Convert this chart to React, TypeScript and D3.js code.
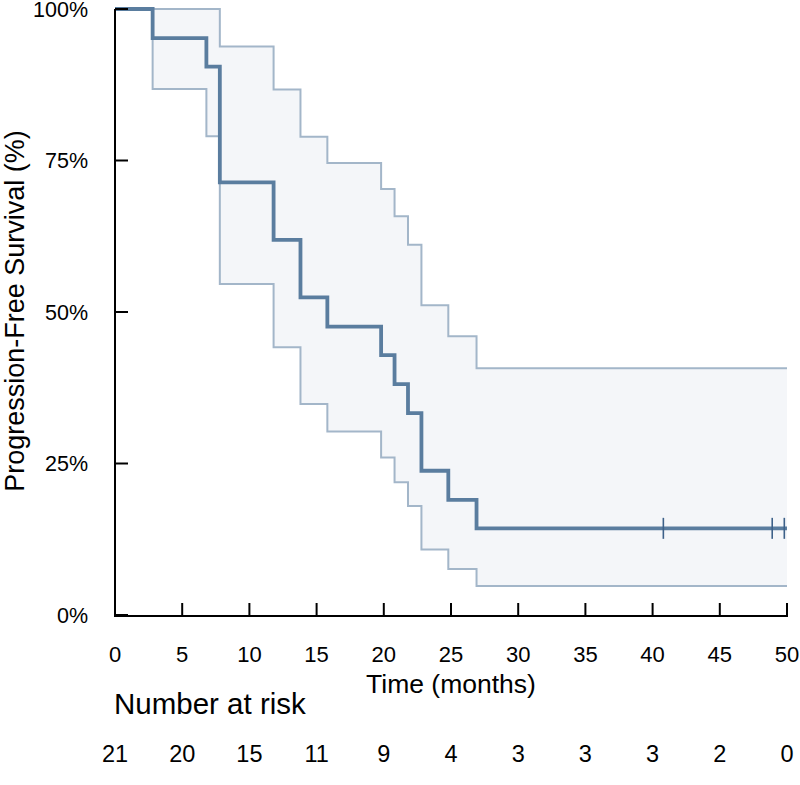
import React from "react";
import * as d3 from "d3";

const eventTimes = [0, 2.8, 6.8, 7.8, 11.8, 13.8, 15.8, 19.8, 20.8, 21.8, 22.8, 24.8, 26.9];
const survival = [100, 95.2, 90.5, 71.4, 61.9, 52.4, 47.6, 42.9, 38.1, 33.3, 23.8, 19.0, 14.3];
const upperCI = [100, 100, 100, 93.8, 86.7, 78.9, 74.6, 70.3, 65.8, 61.1, 51.1, 46.0, 40.7];
const lowerCI = [100, 86.8, 79.0, 54.6, 44.2, 34.8, 30.3, 26.0, 21.9, 18.0, 10.8, 7.6, 4.8];
const censorTimes = [40.8, 48.9, 49.8];
const xTicks = [0, 5, 10, 15, 20, 25, 30, 35, 40, 45, 50];
const yTicks = [0, 25, 50, 75, 100];
const atRisk = [21, 20, 15, 11, 9, 4, 3, 3, 3, 2, 0];
const maxTime = 50;

const W = 800;
const H = 785;
const FONT = "'Liberation Sans', Arial, Helvetica, sans-serif";

export default function App() {
  const x = d3.scaleLinear().domain([0, 50]).range([115, 787]);
  const y = d3.scaleLinear().domain([0, 100]).range([615, 9]);

  type P = { t: number; s: number; u: number; l: number };
  const pts: P[] = eventTimes.map((t, i) => ({ t, s: survival[i], u: upperCI[i], l: lowerCI[i] }));
  const last = pts[pts.length - 1];
  pts.push({ t: maxTime, s: last.s, u: last.u, l: last.l });

  const area = d3
    .area<P>()
    .x((d) => x(d.t))
    .y0((d) => y(d.l))
    .y1((d) => y(d.u))
    .curve(d3.curveStepAfter);
  const lineS = d3.line<P>().x((d) => x(d.t)).y((d) => y(d.s)).curve(d3.curveStepAfter);
  const lineU = d3.line<P>().x((d) => x(d.t)).y((d) => y(d.u)).curve(d3.curveStepAfter);
  const lineL = d3.line<P>().x((d) => x(d.t)).y((d) => y(d.l)).curve(d3.curveStepAfter);

  const axisY = 616;
  const axisX = 115;
  const tickLen = 13;

  return (
    <svg width={W} height={H} style={{ position: "absolute", left: 0, top: 0 }} fontFamily={FONT}>
      <rect x={0} y={0} width={W} height={H} fill="#ffffff" />
      <path d={area(pts) || ""} fill="#f4f6f9" stroke="none" />
      <path d={lineU(pts) || ""} fill="none" stroke="#a3b6c9" strokeWidth={2} />
      <path d={lineL(pts) || ""} fill="none" stroke="#a3b6c9" strokeWidth={2} />
      <path d={lineS(pts) || ""} fill="none" stroke="#5a7d9f" strokeWidth={3.8} />
      {censorTimes.map((t, i) => (
        <line
          key={i}
          x1={x(t)}
          x2={x(t)}
          y1={y(last.s) - 10.5}
          y2={y(last.s) + 10.5}
          stroke="#3d6189"
          strokeWidth={1.6}
        />
      ))}

      {/* axes */}
      <line x1={axisX} x2={axisX} y1={y(100)} y2={axisY} stroke="#000" strokeWidth={2} />
      <line x1={axisX - 1} x2={x(50) + 1} y1={axisY} y2={axisY} stroke="#000" strokeWidth={2} />
      {yTicks.map((v) => (
        <g key={v}>
          <line x1={axisX} x2={axisX + tickLen} y1={y(v)} y2={y(v)} stroke="#000" strokeWidth={2} />
          <text x={88} y={y(v) + 7.8} textAnchor="end" fontSize={21.5} fill="#000">
            {v}%
          </text>
        </g>
      ))}
      {xTicks.map((v) => (
        <g key={v}>
          <line x1={x(v)} x2={x(v)} y1={axisY} y2={axisY - tickLen} stroke="#000" strokeWidth={2} />
          <text x={x(v)} y={662} textAnchor="middle" fontSize={22} fill="#000">
            {v}
          </text>
        </g>
      ))}
      <text x={451} y={693} textAnchor="middle" fontSize={26.5} fill="#000">
        Time (months)
      </text>
      <text
        transform={`translate(24, 311) rotate(-90)`}
        textAnchor="middle"
        fontSize={27}
        fill="#000"
      >
        Progression-Free Survival (%)
      </text>
      <text x={114} y={714} fontSize={29.5} fill="#000">
        Number at risk
      </text>
      {xTicks.map((v, i) => (
        <text key={v} x={x(v)} y={762} textAnchor="middle" fontSize={23.5} fill="#000">
          {atRisk[i]}
        </text>
      ))}
    </svg>
  );
}
